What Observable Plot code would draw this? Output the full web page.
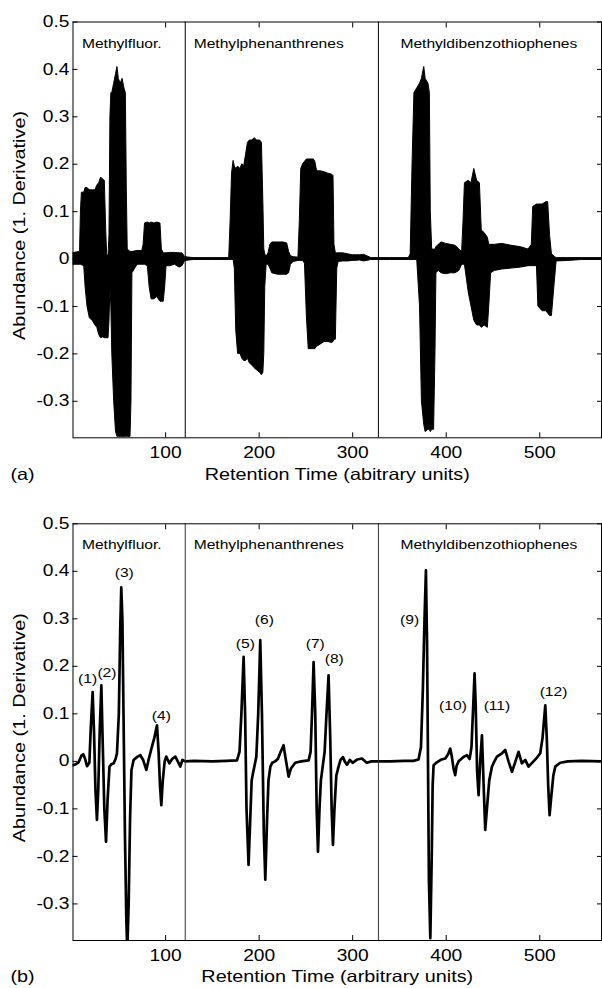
<!DOCTYPE html>
<html><head><meta charset="utf-8">
<script src="https://cdn.jsdelivr.net/npm/d3@7"></script>
<script src="https://cdn.jsdelivr.net/npm/@observablehq/plot@0.6"></script>
<style>
body{margin:0;background:#fff;}
#a,#b{display:block;width:602px;}
svg{display:block;}
</style>
</head><body><div id="a"></div><div id="b"></div>
<script>
// ---------- data ----------
const xTicks = [100, 200, 300, 400, 500];
const yTicks = [-0.3, -0.2, -0.1, 0, 0.1, 0.2, 0.3, 0.4, 0.5];
const separators = [121, 327.5];
const sectionNames = ["Methylfluor.", "Methylphenanthrenes", "Methyldibenzothiophenes"];
const sectionX = [10.5, 130, 351];
const sectionY = [0.455, 0.455, 0.455];

// panel (a): envelope of all overlaid sample traces
const aX  = [1,5,8.5,9.5,10.5,13,14.5,16.5,19,22,25,27,29,31,33,35,36.5,37.5,39,40,41,42,43,45,47,48.5,50,52,54,56,57.5,58.5,59.5,62.5,63.5,64.5,70,75,76.5,78,81,83,85,88,91,94.5,96,98,99.5,101,105,110,115,118,121,
  130,150,168,169.5,171,172.7,174,175.5,177.5,180,182,184,186,188,190,193,195,198,201,203,204.5,205.5,206.5,208,210,212,214,220,226,230,232,234,237,242,243.5,245,247,249,251,253,256,258.5,260,262,266,270,274,278,279.5,280.5,282,283.5,285,290,295,300,308,312,320,327.5,
  340,360,362,364,366,369,372,374,376.5,378,381,382.5,383.5,385,387,388.5,389.5,392,395,400,405,410,414,417,418.5,420,424,427,430,433,436,438,441,444.5,446,448,452,460,470,480,488,491.5,493,497,498.5,503,507,509,511,513,516,518,530,545,566];
const aHi = [0.012,0.014,0.015,0.10,0.14,0.14,0.15,0.15,0.145,0.145,0.145,0.155,0.16,0.172,0.168,0.165,0.06,0.01,0.005,0.05,0.30,0.35,0.35,0.37,0.39,0.405,0.38,0.37,0.38,0.36,0.35,0.15,0.02,0.015,0.015,0.015,0.017,0.017,0.03,0.075,0.077,0.075,0.077,0.075,0.077,0.075,0.02,0.012,0.012,0.012,0.013,0.013,0.012,0.012,0.004,
  0.002,0.002,0.002,0.08,0.18,0.207,0.195,0.19,0.195,0.19,0.2,0.195,0.22,0.245,0.25,0.25,0.255,0.25,0.25,0.245,0.12,0.02,0.01,0.005,0.012,0.03,0.035,0.035,0.035,0.033,0.015,0.006,0.004,0.003,0.08,0.19,0.2,0.205,0.21,0.21,0.21,0.21,0.205,0.185,0.185,0.183,0.18,0.178,0.175,0.03,0.012,0.012,0.012,0.012,0.01,0.008,0.008,0.009,0.002,0.002,
  0.002,0.002,0.01,0.2,0.35,0.36,0.37,0.38,0.405,0.38,0.37,0.35,0.1,0.02,0.02,0.02,0.025,0.03,0.035,0.032,0.03,0.028,0.02,0.015,0.08,0.16,0.165,0.16,0.19,0.165,0.16,0.06,0.055,0.045,0.03,0.03,0.03,0.032,0.028,0.025,0.02,0.03,0.11,0.115,0.115,0.115,0.12,0.12,0.05,0.01,0.005,0.002,0.002,0.002,0.002];
const aLo = [-0.012,-0.012,-0.012,-0.012,-0.013,-0.015,-0.06,-0.10,-0.125,-0.13,-0.14,-0.145,-0.16,-0.167,-0.165,-0.167,-0.167,-0.167,-0.167,-0.13,-0.06,-0.1,-0.2,-0.3,-0.365,-0.375,-0.375,-0.375,-0.375,-0.375,-0.375,-0.375,-0.375,-0.375,-0.3,-0.03,-0.012,-0.012,-0.012,-0.012,-0.015,-0.06,-0.085,-0.085,-0.08,-0.09,-0.09,-0.09,-0.06,-0.015,-0.015,-0.012,-0.018,-0.015,-0.004,
  -0.002,-0.002,-0.002,-0.002,-0.002,-0.002,-0.02,-0.15,-0.2,-0.2,-0.21,-0.215,-0.215,-0.21,-0.22,-0.225,-0.23,-0.235,-0.24,-0.245,-0.24,-0.2,-0.06,-0.012,-0.012,-0.02,-0.03,-0.033,-0.033,-0.033,-0.03,-0.012,-0.006,-0.004,-0.004,-0.004,-0.004,-0.01,-0.12,-0.19,-0.19,-0.19,-0.19,-0.185,-0.18,-0.175,-0.175,-0.177,-0.175,-0.17,-0.17,-0.02,-0.006,-0.005,-0.005,-0.004,-0.003,-0.005,-0.002,-0.002,
  -0.002,-0.002,-0.002,-0.002,-0.002,-0.002,-0.1,-0.3,-0.35,-0.365,-0.36,-0.36,-0.365,-0.36,-0.36,-0.2,-0.03,-0.025,-0.03,-0.032,-0.03,-0.03,-0.025,-0.012,-0.012,-0.012,-0.07,-0.1,-0.13,-0.14,-0.14,-0.145,-0.14,-0.145,-0.1,-0.03,-0.025,-0.022,-0.02,-0.018,-0.015,-0.015,-0.015,-0.015,-0.1,-0.11,-0.11,-0.115,-0.12,-0.12,-0.05,-0.005,-0.004,-0.002,-0.002];

// panel (b): single averaged trace
const bX = [1,4,7,10,12,14,16,18.5,20,22,23.5,25,26.6,28,29.5,31.3,33,34.5,36.3,38,40,42,44.5,46.5,48,50,51.5,52.6,53.8,55,56.5,58,59,60.5,62,63.5,65.8,70,73,76,79.4,82,85.4,88,90.8,92.5,94,95.4,97,99,100.7,104,107,110.4,113,115.7,118,121,
  130,150,165,176.3,179,181,183.4,185,186.5,188.7,190.5,192,193.4,195,197,199,201.2,203,205,206.6,208.5,210,212,214,217,220,223,226.1,228,231.5,234,238.6,245,252.9,255,256.5,258.2,260,261.5,262.9,264.5,266,268,270,272,274.2,276,277.5,278.9,280.5,282.5,284.9,287,289.6,291.5,293.9,297,300,305,309.9,315,320,327.5,
  340,355,365,370.4,373,375,376.8,378.3,379.5,380.5,381.5,383,384.5,385.5,386.5,390,395,399,402,404.3,406,407.8,409.6,411,413.2,416,419,422.2,425,427,428.5,430.3,431.5,433,434.6,436.3,438.2,440,441.7,443.5,446,448.9,451.5,454.2,459.6,463.1,466.6,470.3,474,477.3,480.9,484.5,488,493.3,497,500.5,503,505.9,507.5,509,510.5,512.5,514.5,516.6,521.9,530,545,566];
const bY = [-0.008,-0.006,-0.002,0.012,0.015,0.005,-0.01,-0.003,0.07,0.146,0.06,-0.06,-0.123,-0.06,0.06,0.16,0.02,-0.1,-0.169,-0.08,-0.011,-0.006,-0.004,0.005,0.017,0.1,0.28,0.366,0.3,0.1,-0.15,-0.33,-0.4,-0.3,-0.12,-0.018,0.003,0.01,0.013,0.003,-0.018,0.005,0.031,0.05,0.076,0.02,-0.05,-0.092,-0.04,0,0.01,-0.004,0.005,0.01,0,-0.011,0.003,0,
  0.001,0,0.001,0.002,0.02,0.1,0.22,0.1,-0.1,-0.218,-0.12,-0.04,-0.025,-0.01,0.01,0.1,0.255,0.1,-0.15,-0.249,-0.12,-0.04,-0.011,-0.003,0,0.005,0.02,0.034,0.01,-0.032,-0.015,-0.003,0,0.002,0.02,0.1,0.209,0.1,-0.1,-0.19,-0.1,-0.04,-0.01,0.02,0.1,0.181,0.05,-0.1,-0.176,-0.1,-0.03,-0.011,0.003,0.009,0,-0.007,0.003,-0.003,0.004,0.006,-0.003,0,0,
  0,0.001,0.001,0.004,0.03,0.15,0.3,0.402,0.25,0,-0.25,-0.372,-0.2,-0.05,-0.008,-0.002,0.004,0.006,0.015,0.027,0.01,-0.015,-0.029,-0.01,0,0.005,0.01,0.013,0.005,0.03,0.1,0.185,0.12,-0.02,-0.071,0,0.055,-0.05,-0.144,-0.1,-0.04,-0.011,0,0.01,0.017,0.024,0,-0.022,0,0.02,-0.004,0.003,-0.011,0,0.008,0.017,0.05,0.118,0.05,-0.05,-0.113,-0.07,-0.03,-0.011,-0.003,0,0.001,0];

const peakNames = ["(1)","(2)","(3)","(4)","(5)","(6)","(7)","(8)","(9)","(10)","(11)","(12)"];
const peakX = [16.6, 37.3, 55.8, 95.4, 185.2, 205.5, 260, 280.3, 360.8, 407.2, 454.2, 514.7];
const peakY = [0.173, 0.186, 0.396, 0.096, 0.248, 0.297, 0.248, 0.216, 0.298, 0.116, 0.116, 0.146];

const titleA = "Retention Time (abitrary units)";
const titleB = "Retention Time (arbitrary units)";
const yTitle = "Abundance (1. Derivative)";

// ---------- tables ----------
const envelope = aX.map((x, i) => ({x, hi: aHi[i], lo: aLo[i]}));
const trace = bX.map((x, i) => ({x, y: bY[i]}));
const sections = sectionNames.map((name, i) => ({name, x: sectionX[i], y: sectionY[i]}));
const peaks = peakNames.map((name, i) => ({name, x: peakX[i], y: peakY[i]}));

const fmt = d => d === 0 ? "0" : String(d);

function panel(dataMarks, o) {
  return Plot.plot({
    width: 602, height: o.height,
    marginTop: o.mt, marginBottom: o.mb, marginLeft: 72.5, marginRight: 1,
    x: {domain: [1, 566]},
    y: {domain: [-0.377, 0.5]},
    style: {fontFamily: "'Liberation Sans', Arial, sans-serif", fontSize: "16px", color: "black", background: "white", overflow: "visible"},
    marks: [
      ...dataMarks,
      Plot.ruleX(separators, {stroke: o.sep, strokeWidth: 1}),
      Plot.text(sections, {x: "x", y: "y", text: "name", textAnchor: "start", fontSize: 13, fill: "black"}),
      Plot.frame({stroke: "black", strokeWidth: 1}),
      Plot.axisX(xTicks, {anchor: "bottom", tickSize: -5, tickPadding: 14, label: null, tickFormat: d => String(d)}),
      Plot.axisX(xTicks, {anchor: "top", tickSize: -5, tickFormat: () => "", label: null}),
      Plot.axisY(yTicks, {anchor: "left", tickSize: -5, tickPadding: 8.5, label: null, tickFormat: fmt}),
      Plot.axisY(yTicks, {anchor: "right", tickSize: -5, tickFormat: () => "", label: null}),
      Plot.text([o.title], {frameAnchor: "bottom", dy: 36.7, lineAnchor: "middle", fontSize: 16.5}),
      Plot.text([o.tag], {frameAnchor: "bottom-left", dx: -62.5, dy: 36.7, textAnchor: "start", lineAnchor: "middle", fontSize: 16.5}),
      Plot.text([yTitle], {frameAnchor: "left", rotate: -90, dx: -53.5, dy: o.ylabDy, textAnchor: "start", lineAnchor: "middle", fontSize: 16.5})
    ]
  });
}

const chartA = panel([
  Plot.areaY(envelope, {x: "x", y1: "lo", y2: "hi", fill: "black", stroke: "black", strokeWidth: 1, clip: true})
], {height: 488, mt: 21.5, mb: 50.7, sep: "black", title: titleA, tag: "(a)", ylabDy: 110});

const chartB = panel([
  Plot.line(trace, {x: "x", y: "y", stroke: "black", strokeWidth: 2.7, strokeLinejoin: "round", clip: true}),
  Plot.text(peaks, {x: "x", y: "y", text: "name", fontSize: 13, fill: "black"})
], {height: 500, mt: 35.3, mb: 48, sep: "#333", title: titleB, tag: "(b)", ylabDy: 110});

document.getElementById("a").appendChild(chartA);
document.getElementById("b").appendChild(chartB);

// the reference lettering is set slightly wide
function stretch(svg, k) {
  svg.querySelectorAll("text").forEach(t => {
    if (t.querySelector("tspan")) return;
    const len = t.getComputedTextLength();
    if (len > 0) {
      t.setAttribute("textLength", (len * k).toFixed(2));
      t.setAttribute("lengthAdjust", "spacingAndGlyphs");
    }
  });
}
stretch(chartA, 1.2);
stretch(chartB, 1.2);
</script>
</body></html>
